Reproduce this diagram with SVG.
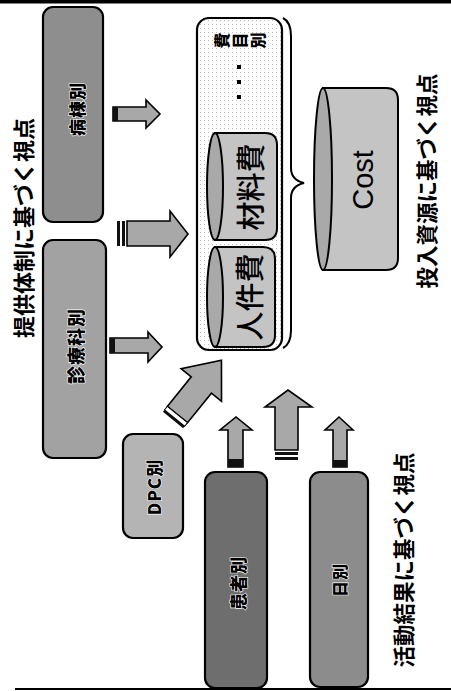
<svg xmlns="http://www.w3.org/2000/svg" width="451" height="691" viewBox="0 0 451 691">
  <defs>
    <pattern id="dots" width="4" height="4" patternUnits="userSpaceOnUse">
      <rect width="4" height="4" fill="#ffffff"/>
      <rect x="0" y="0" width="1" height="1" fill="#bbbbbb"/>
    </pattern>
  </defs>
  <style>
    .title { font-family: "Noto Sans CJK JP", "Noto Sans", sans-serif; font-weight: 700; fill: #000; text-anchor: middle; dominant-baseline: central; }
    .lbl { font-family: "Noto Sans CJK JP", "Noto Sans", sans-serif; font-weight: 900; fill: #000; text-anchor: middle; dominant-baseline: central; stroke: #ffffff; stroke-width: 1.2px; paint-order: stroke; letter-spacing: 1px; }
    .big { font-family: "Noto Sans CJK JP", "Noto Sans", sans-serif; font-weight: 500; fill: #000; text-anchor: middle; dominant-baseline: central; }
    .box { stroke: #000; stroke-width: 2.2; }
    .arrow { fill: #a8a8a8; stroke: #000; stroke-width: 1.6; stroke-linejoin: miter; }
    .band { fill: #111; }
    .cyl { fill: #c4c4c4; stroke: #000; stroke-width: 2; }
    .cylend { fill: #a9a9a9; stroke: #000; stroke-width: 2; }
  </style>

  <!-- page rules -->
  <rect x="0" y="0" width="451" height="3.5" fill="#000"/>
  <line x1="15" y1="689" x2="451" y2="689" stroke="#000" stroke-width="2"/>

  <!-- titles -->
  <text class="title" font-size="22" transform="translate(22,228) rotate(-90)">提供体制に基づく視点</text>
  <text class="title" font-size="21.5" transform="translate(425,181) rotate(-90)">投入資源に基づく視点</text>
  <text class="title" font-size="21.5" transform="translate(402,560) rotate(-90)">活動結果に基づく視点</text>

  <g id="ward">
    <rect class="box" x="43" y="7" width="60" height="215" rx="10" fill="#8e8e8e"/>
    <text class="lbl" font-size="17" transform="translate(76,109) rotate(-90)">病棟別</text>
  </g>
  <g id="dept">
    <rect class="box" x="43" y="240" width="63" height="218" rx="10" fill="#a2a2a2"/>
    <text class="lbl" font-size="18" transform="translate(75,346) rotate(-90)">診療科別</text>
  </g>
  <g id="dpc">
    <rect class="box" x="123" y="434" width="60" height="104" rx="10" fill="#b4b4b4"/>
    <text class="lbl" font-size="17" transform="translate(153,487) rotate(-90)">DPC別</text>
  </g>
  <g id="patient">
    <rect class="box" x="205" y="472" width="62" height="216" rx="10" fill="#6e6e6e"/>
    <text class="lbl" font-size="17" transform="translate(237,583) rotate(-90)">患者別</text>
  </g>
  <g id="daily">
    <rect class="box" x="310" y="472" width="58" height="215" rx="10" fill="#8c8c8c"/>
    <text class="lbl" font-size="16" transform="translate(339,580) rotate(-90)">日別</text>
  </g>

  <g id="cost-items">
    <rect class="box" x="197" y="18" width="85" height="332" rx="12" fill="url(#dots)"/>
    <text class="lbl" font-size="16" transform="translate(221,40) rotate(-90)">費</text>
    <text class="lbl" font-size="16" transform="translate(239,40) rotate(-90)">目</text>
    <text class="lbl" font-size="16" transform="translate(257,40) rotate(-90)">別</text>
    <rect x="237" y="65" width="4" height="4" fill="#000"/>
    <rect x="237" y="80" width="4" height="4" fill="#000"/>
    <rect x="237" y="95" width="4" height="4" fill="#000"/>
  </g>
  <g id="material">
    <path class="cyl" d="M215,133 H265 Q277,133 277,145 V228 Q277,240 265,240 H215 Z"/>
    <ellipse class="cylend" cx="215" cy="186.5" rx="8" ry="53.5"/>
    <text class="big" font-size="29" transform="translate(249,187) rotate(-90)">材料費</text>
  </g>
  <g id="labor">
    <path class="cyl" d="M215,247 H263 Q275,247 275,259 V335 Q275,347 263,347 H215 Z"/>
    <ellipse class="cylend" cx="215" cy="297" rx="8" ry="50"/>
    <text class="big" font-size="29" transform="translate(248,297) rotate(-90)">人件費</text>
  </g>
  <g id="brace">
    <path d="M283,18 Q291,22 291,36 V168 Q291,180 304,183 Q291,186 291,198 V330 Q291,344 283,348" fill="none" stroke="#000" stroke-width="2"/>
  </g>
  <g id="cost">
    <path class="cyl" d="M323,88 H386 Q398,88 398,100 V258 Q398,270 386,270 H323 Z" fill="#b8b8b8"/>
    <ellipse class="cylend" cx="323" cy="179" rx="9" ry="91"/>
    <text font-family="Liberation Sans, Arial, sans-serif" font-size="29" text-anchor="middle" dominant-baseline="central" fill="#000" transform="translate(363,180) rotate(-90)">Cost</text>
  </g>

  <g id="connectors">
    <polygon class="arrow" points="113,107 146,107 146,100 160,114 146,128 146,121 113,121"/>
    <rect class="band" x="113" y="107" width="5" height="14"/>
    <polygon class="arrow" points="127,221 170,221 170,211 188,234 170,257 170,246 127,246"/>
    <rect class="band" x="117" y="221" width="3" height="25"/>
    <rect class="band" x="122" y="221" width="3" height="25"/>
    <polygon class="arrow" points="110,338 148,338 148,332 162,347 148,362 148,353 110,353"/>
    <rect class="band" x="110" y="338" width="5" height="15"/>
    <g transform="translate(173,420) rotate(-51)">
      <polygon class="arrow" points="7,-13 45,-13 45,-26 77,0 45,26 45,13 7,13"/>
      <rect class="band" x="0" y="-13" width="2.5" height="26"/>
      <rect x="2.5" y="-13" width="4.5" height="26" fill="#fff" stroke="#000" stroke-width="1"/>
    </g>
    <polygon class="arrow" points="228,467 228,430 220,430 236,417 252,430 243,430 243,467"/>
    <rect class="band" x="228" y="459" width="15" height="8"/>
    <polygon class="arrow" points="275,450 275,407 265,407 288,390 312,407 298,407 298,450"/>
    <rect class="band" x="275" y="452" width="23" height="3"/>
    <rect class="band" x="275" y="457" width="23" height="3"/>
    <polygon class="arrow" points="333,467 333,430 325,430 339,417 353,430 347,430 347,467"/>
    <rect class="band" x="333" y="460" width="14" height="7"/>
  </g>
</svg>
